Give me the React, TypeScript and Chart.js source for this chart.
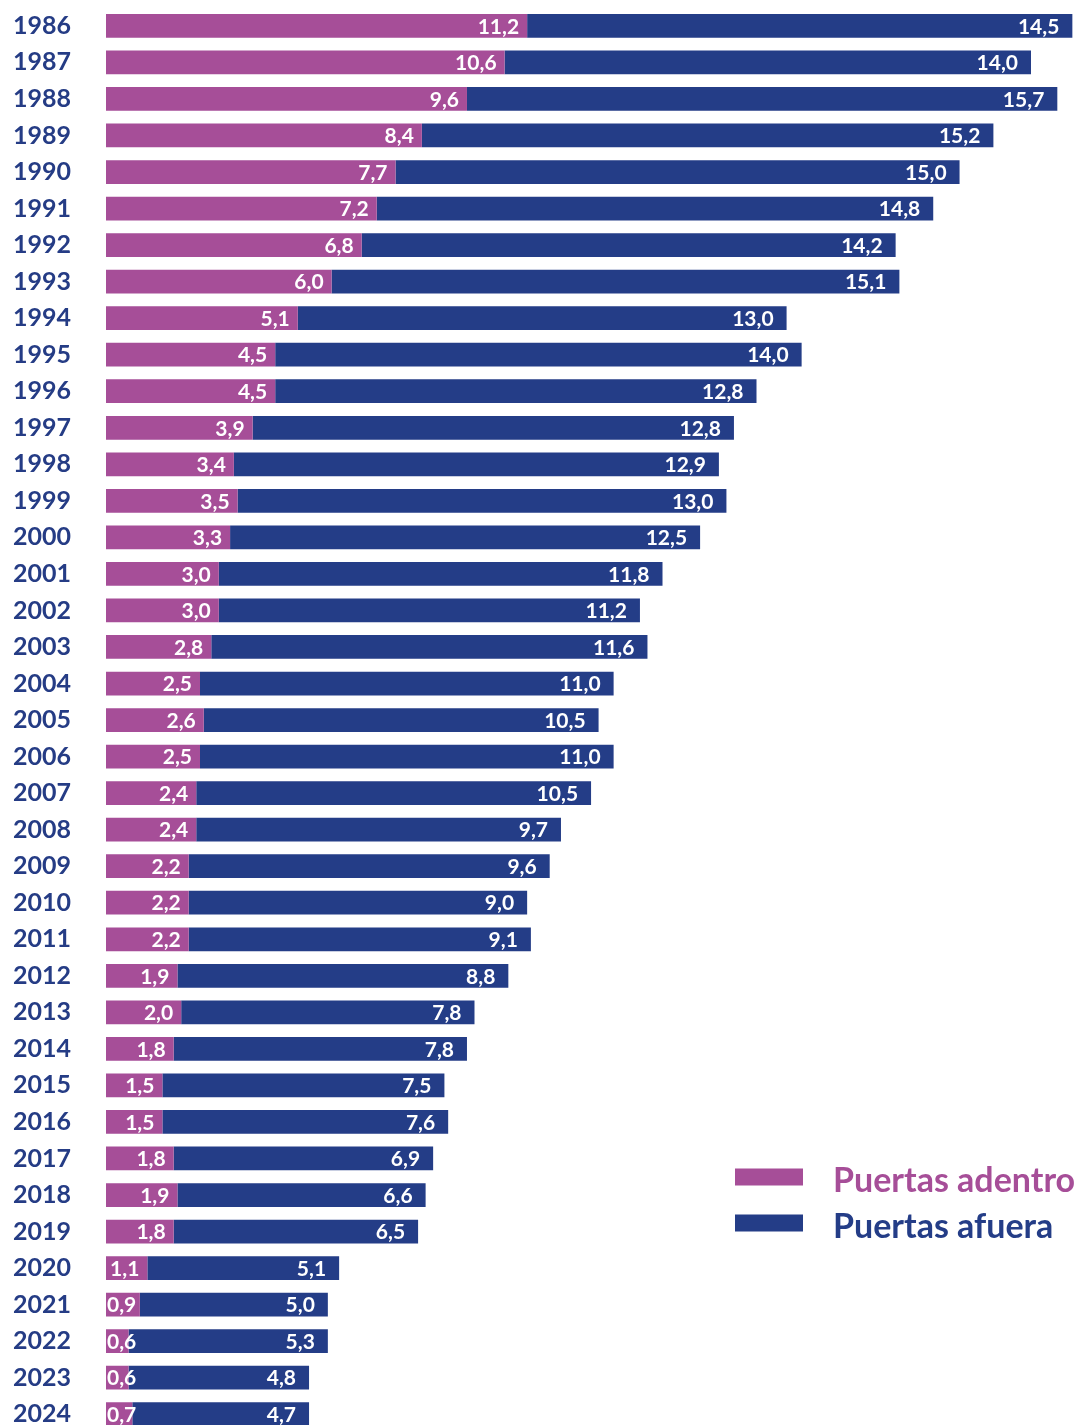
import React, { useEffect, useRef } from "react";
import { Chart, registerables } from "chart.js";

Chart.register(...registerables);

const years = [
  "1986", "1987", "1988", "1989", "1990", "1991", "1992", "1993", "1994", "1995",
  "1996", "1997", "1998", "1999", "2000", "2001", "2002", "2003", "2004", "2005",
  "2006", "2007", "2008", "2009", "2010", "2011", "2012", "2013", "2014", "2015",
  "2016", "2017", "2018", "2019", "2020", "2021", "2022", "2023", "2024",
];

const puertasAdentro = [
  11.2, 10.6, 9.6, 8.4, 7.7, 7.2, 6.8, 6.0, 5.1, 4.5,
  4.5, 3.9, 3.4, 3.5, 3.3, 3.0, 3.0, 2.8, 2.5, 2.6,
  2.5, 2.4, 2.4, 2.2, 2.2, 2.2, 1.9, 2.0, 1.8, 1.5,
  1.5, 1.8, 1.9, 1.8, 1.1, 0.9, 0.6, 0.6, 0.7,
];

const puertasAfuera = [
  14.5, 14.0, 15.7, 15.2, 15.0, 14.8, 14.2, 15.1, 13.0, 14.0,
  12.8, 12.8, 12.9, 13.0, 12.5, 11.8, 11.2, 11.6, 11.0, 10.5,
  11.0, 10.5, 9.7, 9.6, 9.0, 9.1, 8.8, 7.8, 7.8, 7.5,
  7.6, 6.9, 6.6, 6.5, 5.1, 5.0, 5.3, 4.8, 4.7,
];

const seriesNames = ["Puertas adentro", "Puertas afuera"];

const MAGENTA = "#a64e98";
const BLUE = "#243d87";
const FONT = "Lato, 'Open Sans', sans-serif";

const fmt = (v: number) => v.toFixed(1).replace(".", ",");

const valueLabelPlugin = {
  id: "valueLabels",
  afterDatasetsDraw(chart: any) {
    const ctx = chart.ctx;
    const area = chart.chartArea;
    ctx.save();
    ctx.beginPath();
    ctx.rect(area.left, area.top, area.right - area.left, area.bottom - area.top);
    ctx.clip();
    ctx.font = `bold 21px ${FONT}`;
    ctx.fillStyle = "#ffffff";
    ctx.textBaseline = "middle";
    chart.data.datasets.forEach((ds: any, di: number) => {
      const meta = chart.getDatasetMeta(di);
      const pad = di === 0 ? 8 : 13;
      meta.data.forEach((el: any, i: number) => {
        const txt = fmt(ds.data[i]);
        const w = ctx.measureText(txt).width;
        const start = el.base;
        const end = el.x;
        let x = end - pad;
        if (x - w < start) {
          ctx.textAlign = "left";
          x = start + 1;
        } else {
          ctx.textAlign = "right";
        }
        ctx.fillText(txt, x, el.y + 1);
      });
    });
    ctx.restore();
  },
};

const legendPlugin = {
  id: "customLegend",
  afterDraw(chart: any) {
    const ctx = chart.ctx;
    const colors = [MAGENTA, BLUE];
    ctx.save();
    ctx.font = `bold 34px ${FONT}`;
    ctx.textBaseline = "middle";
    ctx.textAlign = "left";
    seriesNames.forEach((name, i) => {
      const cy = 1177 + i * 46;
      ctx.fillStyle = colors[i];
      ctx.fillRect(735, cy - 8.5, 68, 17);
      ctx.fillText(name, 833, cy + 4);
    });
    ctx.restore();
  },
};

export default function App() {
  const ref = useRef<HTMLCanvasElement | null>(null);

  useEffect(() => {
    document.body.style.margin = "0";
    const canvas = ref.current;
    if (!canvas) return;
    const chart = new Chart(canvas, {
      type: "bar",
      data: {
        labels: years,
        datasets: [
          {
            label: seriesNames[0],
            data: puertasAdentro,
            backgroundColor: MAGENTA,
            barPercentage: 0.65,
            categoryPercentage: 1,
          },
          {
            label: seriesNames[1],
            data: puertasAfuera,
            backgroundColor: BLUE,
            barPercentage: 0.65,
            categoryPercentage: 1,
          },
        ],
      },
      options: {
        indexAxis: "y",
        responsive: false,
        animation: false,
        layout: { padding: { top: 7.6, bottom: 0, left: 0, right: 0 } },
        plugins: {
          legend: { display: false },
          tooltip: { enabled: false },
        },
        scales: {
          x: {
            stacked: true,
            display: false,
            min: 0,
            max: 25.85,
          },
          y: {
            stacked: true,
            grid: {
              display: true,
              drawOnChartArea: false,
              drawTicks: true,
              tickLength: 35,
              color: "rgba(0,0,0,0)",
            },
            border: { display: false },
            ticks: {
              padding: 0,
              color: "#253c85",
              font: { family: FONT, weight: "bold", size: 25, lineHeight: 0.6 },
            },
            afterFit(scale: any) {
              scale.width = 106;
            },
          },
        },
      },
      plugins: [valueLabelPlugin, legendPlugin],
    });
    return () => chart.destroy();
  }, []);

  return (
    <div style={{ width: 1078, height: 1440, overflow: "hidden" }}>
      <canvas ref={ref} width={1078} height={1440} style={{ display: "block" }} />
    </div>
  );
}
